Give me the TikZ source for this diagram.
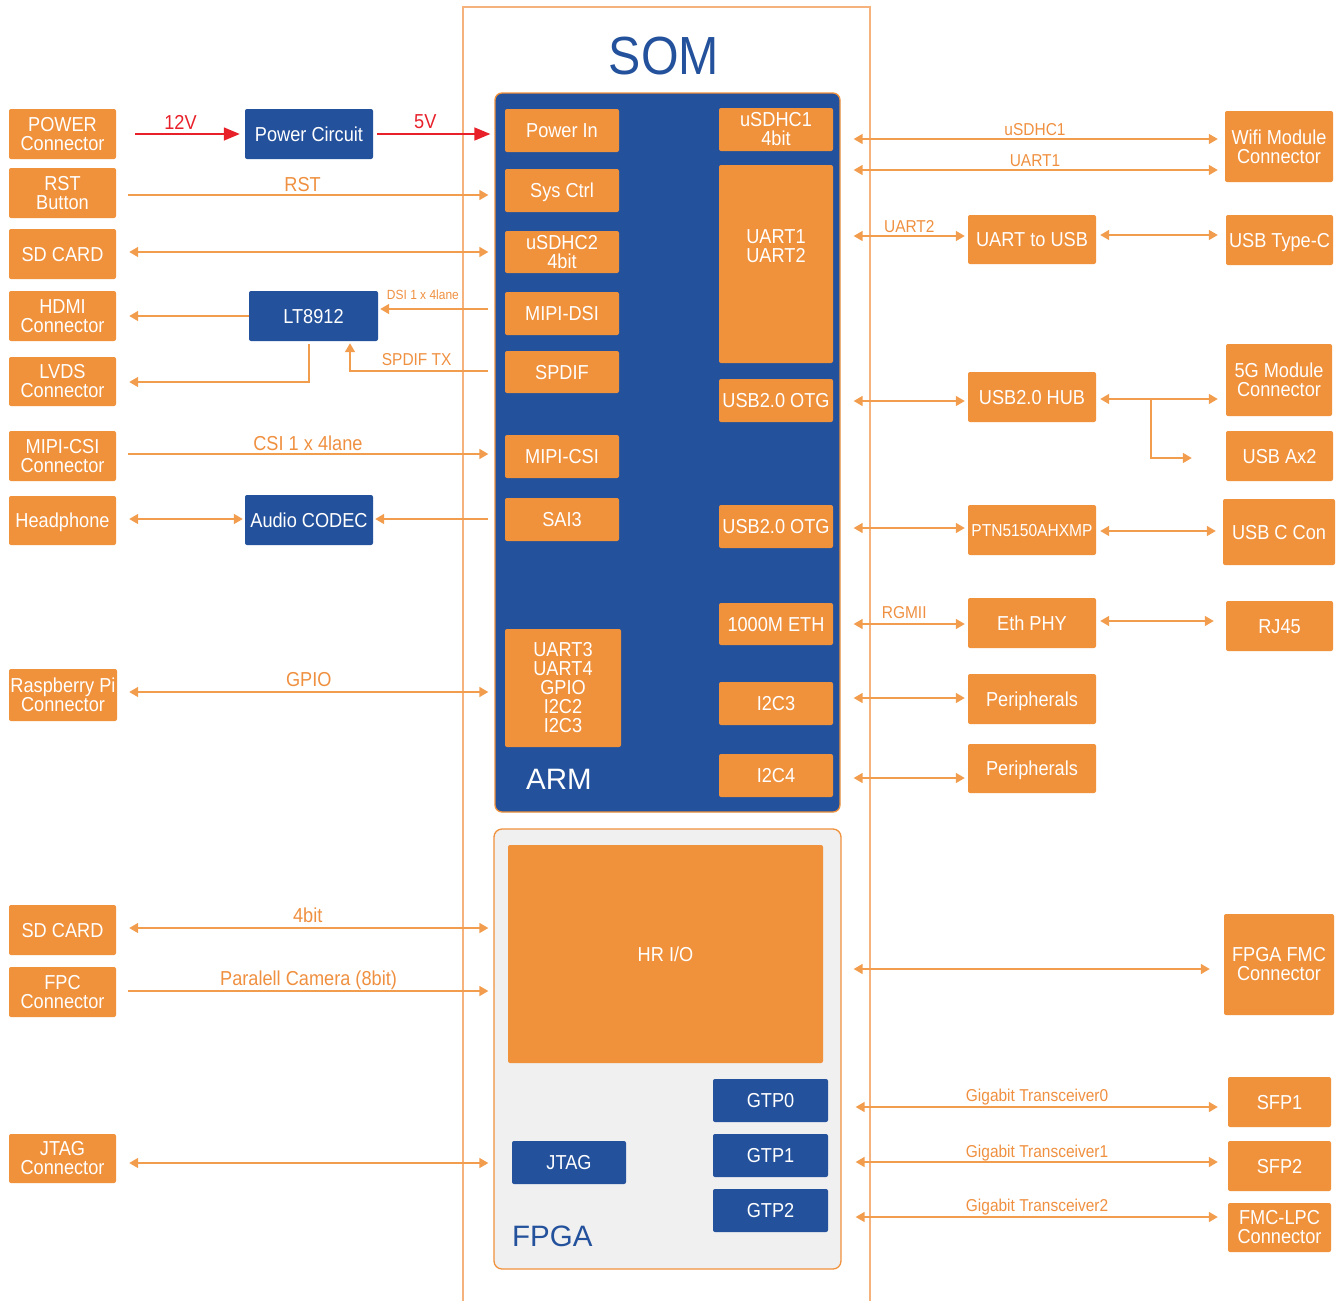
\documentclass[tikz,border=0pt]{standalone}
\usepackage{fontspec}
\setmainfont{Liberation Sans}[FakeStretch=0.9]
\newfontfamily\plainsf{Liberation Sans}
\usetikzlibrary{arrows.meta}
\definecolor{org}{HTML}{F0913B}
\definecolor{blu}{HTML}{23519B}
\definecolor{lne}{HTML}{F29D4E}
\definecolor{ltx}{HTML}{EF9040}
\definecolor{frm}{HTML}{F5B27C}
\definecolor{rd}{HTML}{E8202A}
\definecolor{fbg}{HTML}{F0F0F0}
\newcommand{\mybox}[7]{%
  \pgfmathsetmacro\bxw{#5-#3}%
  \pgfmathsetmacro\bxh{#6-#4}%
  \pgfmathsetmacro\bxcx{(#3+#5)/2}%
  \pgfmathsetmacro\bxcy{(#4+#6)/2}%
  \node[#2, minimum width=\bxw pt, minimum height=\bxh pt] (#1) at (\bxcx,\bxcy) {#7};}
\begin{document}
\begin{tikzpicture}[x=1pt,y=-1pt,
  obox/.style={fill=org, rounded corners=2pt, text=white, font=\fontsize{20.2}{19}\selectfont, align=center, inner sep=0pt},
  bbox/.style={obox, fill=blu},
  one/.style={text height=14.4pt, text depth=0pt},
  conn/.style={draw=lne, line width=1.6pt},
  uni/.style={conn, -{Triangle[length=9pt,width=10pt]}},
  bi/.style={conn, {Triangle[length=9pt,width=10pt]}-{Triangle[length=9pt,width=10pt]}},
  lbl/.style={text=ltx, font=\fontsize{20.2}{20}\selectfont, anchor=base, inner sep=0pt, yshift=5pt},
  slbl/.style={lbl, font=\fontsize{17.2}{17}\selectfont},
  redarr/.style={draw=rd, line width=1.6pt, -{Triangle[length=16pt,width=13pt]}},
  frame/.style={draw=frm, line width=1.3pt, inner sep=0pt},
  armblk/.style={fill=blu, draw=org, line width=1.3pt, rounded corners=7pt, inner sep=0pt},
  fpgablk/.style={fill=fbg, draw=org, line width=1.3pt, rounded corners=8pt, inner sep=0pt}
]
\useasboundingbox (0,0) rectangle (1344,1301);
% SOM frame
\mybox{som}{frame}{463}{7}{870}{1330}{}
\node[anchor=base, inner sep=0pt, text=blu, font=\fontsize{53.7}{54}\selectfont] (somtitle) at (664,74) {SOM};
% ARM block
\mybox{arm}{armblk}{495}{93}{840}{812}{}
\mybox{pin}{obox,one}{505}{109}{619}{152}{Power In}
\mybox{sysc}{obox,one}{505}{169}{619}{212}{Sys Ctrl}
\mybox{sdhc2}{obox}{505}{231}{619}{273}{uSDHC2\\4bit}
\mybox{dsi}{obox,one}{505}{292}{619}{335}{MIPI-DSI}
\mybox{spdif}{obox,one}{505}{351}{619}{393}{SPDIF}
\mybox{mcsi}{obox,one}{505}{435}{619}{478}{MIPI-CSI}
\mybox{sai}{obox,one}{505}{498}{619}{541}{SAI3}
\mybox{uart34}{obox}{505}{629}{621}{747}{UART3\\UART4\\GPIO\\I2C2\\I2C3}
\mybox{sdhc1}{obox}{719}{108}{833}{151}{uSDHC1\\4bit}
\mybox{uart12}{obox}{719}{165}{833}{363}{}
\node[anchor=north, inner sep=0pt, text=white, align=center, font=\fontsize{20.2}{19}\selectfont] (uart12txt) at (776,229) {UART1\\UART2};
\mybox{otga}{obox,one}{719}{379}{833}{422}{USB2.0 OTG}
\mybox{otgb}{obox,one}{719}{505}{833}{548}{USB2.0 OTG}
\mybox{ethm}{obox,one}{719}{603}{833}{645}{1000M ETH}
\mybox{icc3}{obox,one}{719}{682}{833}{725}{I2C3}
\mybox{icc4}{obox,one}{719}{754}{833}{797}{I2C4}
\node[anchor=base west, inner sep=0pt, text=white, font=\plainsf\fontsize{29.5}{30}\selectfont] (armlbl) at (526,789) {ARM};
% FPGA block
\mybox{fpga}{fpgablk}{494}{829}{841}{1269}{}
\mybox{hrio}{obox,one}{508}{845}{823}{1063}{HR I/O}
\mybox{gtpa}{bbox,one}{713}{1079}{828}{1122}{GTP0}
\mybox{gtpb}{bbox,one}{713}{1134}{828}{1177}{GTP1}
\mybox{gtpc}{bbox,one}{713}{1189}{828}{1232}{GTP2}
\mybox{jtagi}{bbox,one}{512}{1141}{626}{1184}{JTAG}
\node[anchor=base west, inner sep=0pt, text=blu, font=\plainsf\fontsize{29.5}{30}\selectfont] (fpgalbl) at (512,1246) {FPGA};
% left boxes
\mybox{pwr}{obox}{9}{109}{116}{159}{POWER\\Connector}
\mybox{rst}{obox}{9}{168}{116}{218}{RST\\Button}
\mybox{sd}{obox,one}{9}{229}{116}{279}{SD CARD}
\mybox{hdmi}{obox}{9}{291}{116}{341}{HDMI\\Connector}
\mybox{lvds}{obox}{9}{357}{116}{406}{LVDS\\Connector}
\mybox{csi}{obox}{9}{431}{116}{481}{MIPI-CSI\\Connector}
\mybox{hp}{obox,one}{9}{496}{116}{545}{Headphone}
\mybox{rpi}{obox}{9}{669}{117}{721}{Raspberry Pi\\Connector}
\mybox{sdb}{obox,one}{9}{905}{116}{955}{SD CARD}
\mybox{fpc}{obox}{9}{967}{116}{1017}{FPC\\Connector}
\mybox{jtagc}{obox}{9}{1134}{116}{1183}{JTAG\\Connector}
\mybox{pc}{bbox,one}{245}{109}{373}{159}{Power Circuit}
\mybox{lt}{bbox,one}{249}{291}{378}{341}{LT8912}
\mybox{codec}{bbox,one}{245}{495}{373}{545}{Audio CODEC}
% right boxes
\mybox{wifi}{obox}{1225}{111}{1333}{182}{Wifi Module\\Connector}
\mybox{usbtc}{obox,one}{1226}{215}{1333}{265}{USB Type-C}
\mybox{fiveg}{obox}{1226}{344}{1332}{416}{5G Module\\Connector}
\mybox{usbax}{obox,one}{1226}{431}{1333}{481}{USB Ax2}
\mybox{usbcc}{obox,one}{1223}{499}{1335}{565}{USB C Con}
\mybox{rjf}{obox,one}{1226}{601}{1333}{651}{RJ45}
\mybox{fmc}{obox}{1224}{914}{1334}{1015}{FPGA FMC\\Connector}
\mybox{sfpa}{obox,one}{1228}{1077}{1331}{1127}{SFP1}
\mybox{sfpb}{obox,one}{1228}{1141}{1331}{1191}{SFP2}
\mybox{lpc}{obox}{1228}{1203}{1331}{1252}{FMC-LPC\\Connector}
\mybox{uu}{obox,one}{968}{215}{1096}{264}{UART to USB}
\mybox{hub}{obox,one}{968}{372}{1096}{422}{USB2.0 HUB}
\mybox{ptn}{obox,one,text height=12.4pt}{968}{505}{1096}{555}{\fontsize{17.3}{18}\selectfont PTN5150AHXMP}
\mybox{ephy}{obox,one}{968}{598}{1096}{648}{Eth PHY}
\mybox{pera}{obox,one}{968}{674}{1096}{724}{Peripherals}
\mybox{perb}{obox,one}{968}{744}{1096}{793}{Peripherals}
% left connectors
\draw[redarr, shorten <=19pt, shorten >=5pt] (pwr.east) -- (pc.west) node[lbl, text=rd, pos=0.5] {12V};
\draw[redarr, shorten <=4pt, shorten >=4pt] (pc.east) -- (arm.west |- pc.east) node[lbl, text=rd, pos=0.43, yshift=1pt] {5V};
\draw[uni, shorten <=12pt, shorten >=6pt] (rst.east |- 0,195) -- (arm.west |- 0,195) node[lbl, pos=0.493, yshift=-1pt] {RST};
\draw[bi, shorten <=13pt, shorten >=6pt] (sd.east |- 0,252) -- (arm.west |- 0,252);
\draw[uni, shorten >=2pt, shorten <=6pt] (arm.west |- 0,309) -- (lt.east |- 0,309) node[slbl, pos=0.615, yshift=5pt, font=\fontsize{13.3}{13}\selectfont] {DSI 1 x 4lane};
\draw[uni, shorten >=13pt] (lt.west) -- (hdmi.east);
\draw[uni, shorten <=3pt, shorten >=13pt] ([xshift=-4.5pt]lt.south) |- (lvds.east |- 0,382);
\draw[uni, shorten <=6pt, shorten >=2pt] (arm.west |- 0,371) -| ([xshift=36.5pt]lt.south) node[slbl, pos=0.269, yshift=1pt] {SPDIF TX};
\draw[uni, shorten <=12pt, shorten >=6pt] (csi.east |- 0,454) -- (arm.west |- 0,454) node[lbl, pos=0.507, yshift=-1.5pt] {CSI 1 x 4lane};
\draw[bi, shorten <=13pt, shorten >=2pt] (hp.east |- 0,519) -- (codec.west |- 0,519);
\draw[uni, shorten <=6pt, shorten >=2pt] (arm.west |- 0,519) -- (codec.east |- 0,519);
\draw[bi, shorten <=12pt, shorten >=6pt] (rpi.east |- 0,692) -- (arm.west |- 0,692) node[lbl, pos=0.508, yshift=1pt] {GPIO};
\draw[bi, shorten <=13pt, shorten >=5pt] (sdb.east |- 0,928) -- (fpga.west |- 0,928) node[lbl, pos=0.508, yshift=1pt] {4bit};
\draw[uni, shorten <=12pt, shorten >=5pt] (fpc.east |- 0,991) -- (fpga.west |- 0,991) node[lbl, pos=0.51, yshift=1pt] {Paralell Camera (8bit)};
\draw[bi, shorten <=13pt, shorten >=5pt] (jtagc.east |- 0,1163) -- (fpga.west |- 0,1163);
% right connectors
\draw[bi, shorten <=13pt, shorten >=7pt] (arm.east |- 0,139) -- (wifi.west |- 0,139) node[slbl, pos=0.506, yshift=-1pt] {uSDHC1};
\draw[bi, shorten <=13pt, shorten >=7pt] (arm.east |- 0,170) -- (wifi.west |- 0,170) node[slbl, pos=0.506, yshift=-1pt] {UART1};
\draw[bi, shorten <=13pt, shorten >=3pt] (arm.east |- 0,236) -- (uu.west |- 0,236) node[slbl, pos=0.54, yshift=-1pt] {UART2};
\draw[bi, shorten <=4pt, shorten >=8pt] (uu.east |- 0,235) -- (usbtc.west |- 0,235);
\draw[bi, shorten <=13pt, shorten >=3pt] (arm.east |- 0,401) -- (hub.west |- 0,401);
\draw[bi, shorten <=4pt, shorten >=8pt] (hub.east |- 0,399) -- (fiveg.west |- 0,399);
\coordinate (hubbr) at (1151,399);
\draw[uni, shorten >=34pt] (hubbr) |- (usbax.west |- 0,458);
\draw[bi, shorten <=13pt, shorten >=3pt] (arm.east |- 0,528) -- (ptn.west |- 0,528);
\draw[bi, shorten <=4pt, shorten >=7pt] (ptn.east |- 0,531) -- (usbcc.west |- 0,531);
\draw[bi, shorten <=13pt, shorten >=3pt] (arm.east |- 0,624) -- (ephy.west |- 0,624) node[slbl, pos=0.5, yshift=1pt] {RGMII};
\draw[bi, shorten <=4pt, shorten >=12pt] (ephy.east |- 0,621) -- (rjf.west |- 0,621);
\draw[bi, shorten <=13pt, shorten >=3pt] (arm.east |- 0,698) -- (pera.west |- 0,698);
\draw[bi, shorten <=13pt, shorten >=3pt] (arm.east |- 0,778) -- (perb.west |- 0,778);
\draw[bi, shorten <=12pt, shorten >=14pt] (fpga.east |- 0,969) -- (fmc.west |- 0,969);
\draw[bi, shorten <=14pt, shorten >=10pt] (fpga.east |- 0,1107) -- (sfpa.west |- 0,1107) node[slbl, pos=0.506, yshift=1pt] {Gigabit Transceiver0};
\draw[bi, shorten <=14pt, shorten >=10pt] (fpga.east |- 0,1162) -- (sfpb.west |- 0,1162) node[slbl, pos=0.506] {Gigabit Transceiver1};
\draw[bi, shorten <=14pt, shorten >=10pt] (fpga.east |- 0,1217) -- (lpc.west |- 0,1217) node[slbl, pos=0.506, yshift=1pt] {Gigabit Transceiver2};
\end{tikzpicture}
\end{document}
